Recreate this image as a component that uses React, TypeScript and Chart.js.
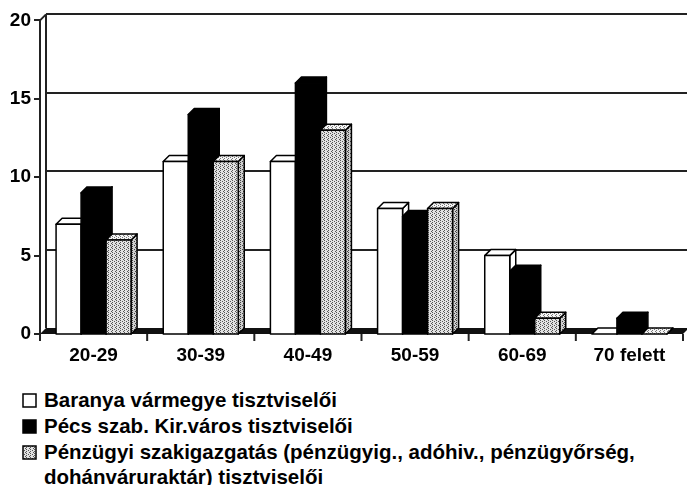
import React, { useEffect, useRef } from 'react';
import { Chart, registerables } from 'chart.js';

Chart.register(...registerables);

const categories = ['20-29', '30-39', '40-49', '50-59', '60-69', '70 felett'];
const baranya = [7, 11, 11, 8, 5, 0];
const pecs = [9, 14, 16, 7.5, 4, 1];
const penzugyi = [6, 11, 13, 8, 1, 0];
const yTicks = [0, 5, 10, 15, 20];
const seriesNames = [
  'Baranya vármegye tisztviselői',
  'Pécs szab. Kir.város tisztviselői',
  'Pénzügyi szakigazgatás (pénzügyig., adóhiv., pénzügyőrség, dohánváruraktár) tisztviselői',
];

const D = 6;
const FONT = '"Liberation Sans", Arial, sans-serif';

function makePattern(bg: string, dot: string): CanvasPattern | string {
  const c = document.createElement('canvas');
  c.width = 4;
  c.height = 4;
  const g = c.getContext('2d');
  if (!g) return bg;
  g.fillStyle = bg;
  g.fillRect(0, 0, 4, 4);
  g.fillStyle = dot;
  g.fillRect(0, 0, 1, 1);
  g.fillRect(2, 1, 1, 1);
  g.fillRect(0, 2, 1, 1);
  g.fillRect(3, 3, 1, 1);
  const p = g.createPattern(c, 'repeat');
  return p || bg;
}

export default function App() {
  const ref = useRef<HTMLCanvasElement>(null);
  const legendRef = useRef<HTMLCanvasElement>(null);

  useEffect(() => {
    if (!ref.current) return;
    const front = makePattern('#e2e2e2', '#555');
    const topP = makePattern('#f4f4f4', '#777');
    const side = makePattern('#cfcfcf', '#444');
    const styles = [
      { front: '#ffffff', top: '#ffffff', side: '#ffffff' },
      { front: '#000000', top: '#000000', side: '#000000' },
      { front, top: topP, side },
    ];

    const threeD = {
      id: 'threeD',
      beforeDatasetsDraw(chart: any) {
        const { ctx, chartArea } = chart;
        const { left, right, top, bottom } = chartArea;
        const y = chart.scales.y;
        const x = chart.scales.x;
        ctx.save();
        // floor
        ctx.fillStyle = '#111';
        ctx.beginPath();
        ctx.moveTo(left, bottom);
        ctx.lineTo(left + D, bottom - D);
        ctx.lineTo(right + D, bottom - D);
        ctx.lineTo(right, bottom);
        ctx.closePath();
        ctx.fill();
        // back wall grid
        ctx.strokeStyle = '#222';
        ctx.lineWidth = 2;
        yTicks.forEach((v) => {
          if (v === 0) return;
          const py = Math.round(y.getPixelForValue(v) - D);
          ctx.beginPath();
          ctx.moveTo(left + D, py);
          ctx.lineTo(right + D + 10, py);
          ctx.stroke();
        });
        // back wall left edge
        ctx.beginPath();
        ctx.moveTo(left + D, y.getPixelForValue(yTicks[yTicks.length - 1]) - D);
        ctx.lineTo(left + D, bottom - D);
        ctx.stroke();
        // front axis
        ctx.beginPath();
        ctx.moveTo(left + D, top - D);
        ctx.lineTo(left, top);
        ctx.lineTo(left, bottom + 6);
        ctx.stroke();
        // y ticks
        yTicks.forEach((v) => {
          const py = Math.round(y.getPixelForValue(v));
          ctx.beginPath();
          ctx.moveTo(left - 6, py);
          ctx.lineTo(left, py);
          ctx.stroke();
        });
        // x ticks at category boundaries
        const n = categories.length;
        for (let i = 0; i <= n; i++) {
          let px;
          if (i === 0) px = left;
          else if (i === n) px = right;
          else px = (x.getPixelForValue(i - 1) + x.getPixelForValue(i)) / 2;
          ctx.beginPath();
          ctx.moveTo(px, bottom);
          ctx.lineTo(px, bottom + 7);
          ctx.stroke();
        }
        ctx.restore();
      },
      afterDatasetsDraw(chart: any) {
        const { ctx } = chart;
        ctx.save();
        ctx.strokeStyle = '#000';
        ctx.lineWidth = 1.5;
        ctx.lineJoin = 'round';
        const n = categories.length;
        for (let j = 0; j < n; j++) {
          for (let i = 0; i < chart.data.datasets.length; i++) {
            const el = chart.getDatasetMeta(i).data[j];
            const p = el.getProps(['x', 'y', 'base', 'width'], true);
            const L = p.x - p.width / 2;
            const R = p.x + p.width / 2;
            const T = Math.min(p.y, p.base);
            const B = p.base;
            const st = styles[i];
            // side
            ctx.beginPath();
            ctx.moveTo(R, B);
            ctx.lineTo(R, T);
            ctx.lineTo(R + D, T - D);
            ctx.lineTo(R + D, B - D);
            ctx.closePath();
            ctx.fillStyle = st.side;
            ctx.fill();
            ctx.stroke();
            // top
            ctx.beginPath();
            ctx.moveTo(L, T);
            ctx.lineTo(R, T);
            ctx.lineTo(R + D, T - D);
            ctx.lineTo(L + D, T - D);
            ctx.closePath();
            ctx.fillStyle = st.top;
            ctx.fill();
            ctx.stroke();
            // front
            if (B - T > 0.5) {
              ctx.fillStyle = st.front;
              ctx.fillRect(L, T, R - L, B - T);
              ctx.strokeRect(L, T, R - L, B - T);
            }
          }
        }
        ctx.restore();
      },
    };

    const chart = new Chart(ref.current, {
      type: 'bar',
      data: {
        labels: categories,
        datasets: [
          { label: seriesNames[0], data: baranya, backgroundColor: 'rgba(0,0,0,0)', borderWidth: 0 },
          { label: seriesNames[1], data: pecs, backgroundColor: 'rgba(0,0,0,0)', borderWidth: 0 },
          { label: seriesNames[2], data: penzugyi, backgroundColor: 'rgba(0,0,0,0)', borderWidth: 0 },
        ],
      },
      options: {
        responsive: false,
        animation: false,
        events: [],
        layout: { padding: { top: 20, right: 4, left: 0, bottom: 0 } },
        datasets: { bar: { categoryPercentage: 0.7, barPercentage: 1.0 } },
        plugins: { legend: { display: false }, tooltip: { enabled: false }, title: { display: false } },
        scales: {
          x: {
            grid: { display: false, drawTicks: false },
            border: { display: false },
            ticks: { color: '#000', font: { family: FONT, size: 19, weight: 'bold' }, padding: 10, maxRotation: 0, autoSkip: false },
            afterFit: (s: any) => { s.height = 40; },
          },
          y: {
            min: 0,
            max: 20,
            grid: { display: false, drawTicks: false },
            border: { display: false },
            ticks: { stepSize: 5, color: '#000', font: { family: FONT, size: 19, weight: 'bold' }, padding: 9 },
            afterFit: (s: any) => { s.width = 40; },
          },
        },
      },
      plugins: [threeD],
    });

    // legend swatches
    const lc = legendRef.current;
    if (lc) {
      const g = lc.getContext('2d');
      if (g) {
        g.clearRect(0, 0, lc.width, lc.height);
        const rows = [0, 26, 52];
        rows.forEach((ry, i) => {
          g.fillStyle = styles[i].front as any;
          g.fillRect(1, ry + 1, 13, 13);
          g.strokeStyle = '#000';
          g.lineWidth = 1.5;
          g.strokeRect(1, ry + 1, 13, 13);
        });
      }
    }

    return () => chart.destroy();
  }, []);

  const textStyle: React.CSSProperties = {
    position: 'absolute',
    left: 44,
    fontFamily: FONT,
    fontWeight: 'bold',
    fontSize: 20.5,
    lineHeight: '25px',
    color: '#000',
    whiteSpace: 'nowrap',
  };

  return (
    <div style={{ position: 'absolute', left: 0, top: 0, width: 687, height: 485, background: '#fff', overflow: 'hidden' }}>
      <canvas ref={ref} width={687} height={374} style={{ position: 'absolute', left: 0, top: 0 }} />
      <canvas ref={legendRef} width={16} height={70} style={{ position: 'absolute', left: 22, top: 393 }} />
      <div style={{ ...textStyle, top: 387 }}>{seriesNames[0]}</div>
      <div style={{ ...textStyle, top: 413 }}>{seriesNames[1]}</div>
      <div style={{ ...textStyle, top: 439, whiteSpace: 'normal', width: 640 }}>{seriesNames[2]}</div>
    </div>
  );
}
